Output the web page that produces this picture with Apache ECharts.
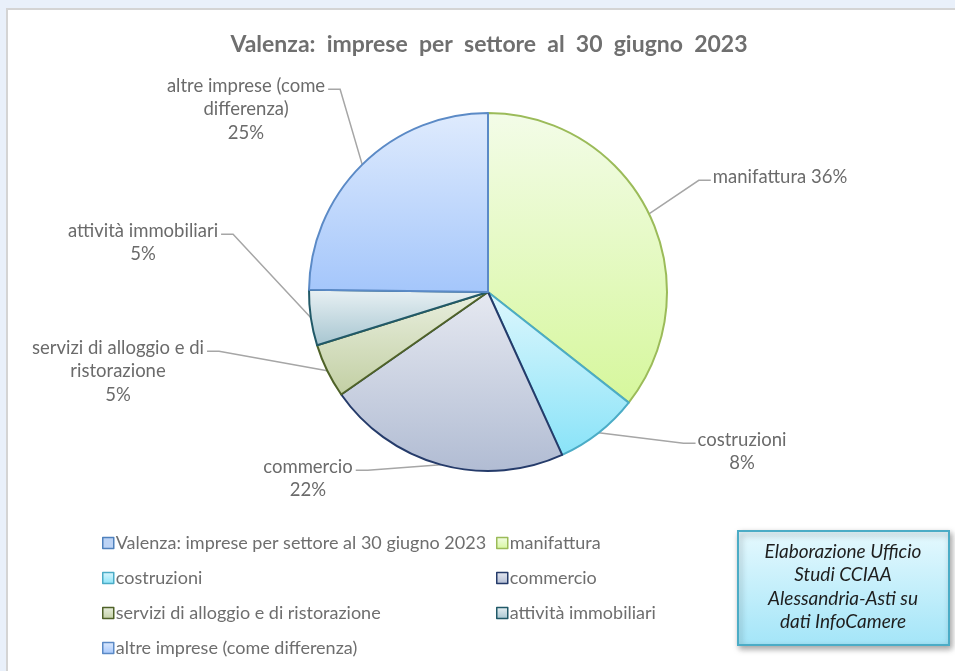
<!DOCTYPE html>
<html>
<head>
<meta charset="utf-8">
<script src="https://cdn.jsdelivr.net/npm/echarts@6/dist/echarts.min.js"></script>
<style>
  html, body { margin: 0; padding: 0; background: #e9f0fa; overflow: hidden; }
  #frame { position: absolute; left: 6px; top: 8px; width: 960px; height: 680px;
           background: #fff; border-left: 2px solid #d4d4d4; border-top: 2px solid #d4d4d4; }
  #chart { position: absolute; left: 0; top: 0; width: 955px; height: 671px; }
</style>
</head>
<body>
<div id="frame"></div>
<div id="chart"></div>
<script>
// data (shares in %)
const seriesName = 'Valenza: imprese per settore al 30 giugno 2023';
const categories = ['manifattura', 'costruzioni', 'commercio',
  'servizi di alloggio e di ristorazione', 'attività immobiliari',
  'altre imprese (come differenza)'];
const shares = [35.6, 7.6, 22.1, 4.9, 5.0, 24.8];
const labelTexts = ['manifattura {p}', 'costruzioni\n{p}', 'commercio\n{p}',
  'servizi di alloggio e di\nristorazione\n{p}', 'attività immobiliari\n{p}',
  'altre imprese (come\ndifferenza)\n{p}'];

// colours: [top, bottom, border]
const colors = [
  ['#f3fce8', '#d6f79c', '#9bbb59'],
  ['#def7fd', '#89e3f8', '#4bacc6'],
  ['#e6e9f1', '#b1bcd3', '#253b6a'],
  ['#e9efdf', '#c2cfa3', '#4f6228'],
  ['#e9f1f4', '#a6c5d0', '#215968'],
  ['#dfebfd', '#a4c6fb', '#5b8ac6']
];
const headColor = ['#bcd3f5', '#4f81bd'];

// label block: centre x, top y (window px)
const labelPos = [[780, 165], [742, 428], [308, 455], [118, 336], [143, 219], [246, 74]];
const LH = 23.5;

const chart = echarts.init(document.getElementById('chart'));

function grad(c) {
  return new echarts.graphic.LinearGradient(0, 0, 0, 1, [
    { offset: 0, color: c[0] }, { offset: 1, color: c[1] }
  ]);
}

const pieData = [{
  name: seriesName, value: 0,
  itemStyle: { color: headColor[0], borderColor: headColor[1], borderWidth: 0 },
  label: { show: false }, labelLine: { show: false }
}].concat(categories.map((n, i) => ({
  name: n, value: shares[i],
  itemStyle: { color: grad(colors[i]), borderColor: colors[i][2], borderWidth: 2 }
})));

const font = 'Lato, "Open Sans", sans-serif';
const legendText = { fontFamily: font, fontSize: 18, color: '#6e6e6e', lineHeight: 20, padding: [0, 0, 0, -3] };

chart.setOption({
  animation: false,
  title: {
    text: 'Valenza:  imprese  per  settore  al  30  giugno  2023',
    left: 484, textAlign: 'center', top: 28,
    textStyle: { fontFamily: font, fontSize: 23, fontWeight: 'bold', color: '#6f6f6f' }
  },
  legend: [
    {
      orient: 'vertical', left: 97, top: 528, itemGap: 15, itemWidth: 11, itemHeight: 11,
      icon: 'rect', selectedMode: false,
      itemStyle: { borderWidth: 1.5 },
      textStyle: legendText,
      data: [
        { name: seriesName, itemStyle: { color: headColor[0], borderColor: headColor[1] } },
        categories[1], categories[3], categories[5]
      ]
    },
    {
      orient: 'vertical', left: 491, top: 528, itemGap: 15, itemWidth: 11, itemHeight: 11,
      icon: 'rect', selectedMode: false,
      itemStyle: { borderWidth: 1.5 },
      textStyle: legendText,
      data: [categories[0], categories[2], categories[4]]
    }
  ],
  graphic: [{
    type: 'group', left: 737, top: 530,
    children: [{
      type: 'rect', shape: { x: 0, y: 0, width: 211, height: 114 },
      style: {
        fill: new echarts.graphic.LinearGradient(0, 0, 0, 1, [
          { offset: 0, color: '#e6f9fe' }, { offset: 1, color: '#a3e5f8' }
        ]),
        stroke: '#4bacc6', lineWidth: 2,
        shadowBlur: 6, shadowOffsetX: 2, shadowOffsetY: 3, shadowColor: 'rgba(0,0,0,0.35)'
      }
    }, {
      type: 'text', x: 105, y: 56,
      style: {
        text: 'Elaborazione Ufficio\nStudi CCIAA\nAlessandria-Asti su\ndati InfoCamere',
        fontFamily: font, fontStyle: 'italic', fontSize: 19, lineHeight: 23.5,
        fill: '#1e1e1e', align: 'center', verticalAlign: 'middle'
      }
    }]
  }],
  series: [{
    type: 'pie', name: seriesName,
    center: [488, 292], radius: 179,
    startAngle: 90, clockwise: true,
    avoidLabelOverlap: false,
    data: pieData,
    label: {
      show: true, position: 'outside',
      formatter: function (p) {
        const t = labelTexts[p.dataIndex - 1];
        if (!t) return '';
        return '{t|' + t.replace('{p}', Math.round(p.percent) + '%').split('\n').join('}\n{t|') + '}';
      },
      rich: { t: { fontFamily: font, fontSize: 18.5, color: '#6b6b6b', lineHeight: LH, align: 'center' } }
    },
    labelLine: { show: true, lineStyle: { color: '#a6a6a6', width: 1.5 } },
    labelLayout: function (params) {
      const i = params.dataIndex - 1;
      if (i < 0) return {};
      const w = params.labelRect.width;
      const cx = labelPos[i][0], top = labelPos[i][1];
      const right = cx > 488;
      const pts = params.labelLinePoints;
      const ey = top + LH * 0.65;
      const ex = right ? cx - w / 2 - 2 : cx + w / 2 + 3;
      const elbow = right ? ex - 12 : ex + 12;
      const out = { x: cx, y: top, align: 'center', verticalAlign: 'top' };
      if (pts) out.labelLinePoints = [pts[0], [elbow, ey], [ex, ey]];
      return out;
    }
  }]
});
</script>
</body>
</html>
